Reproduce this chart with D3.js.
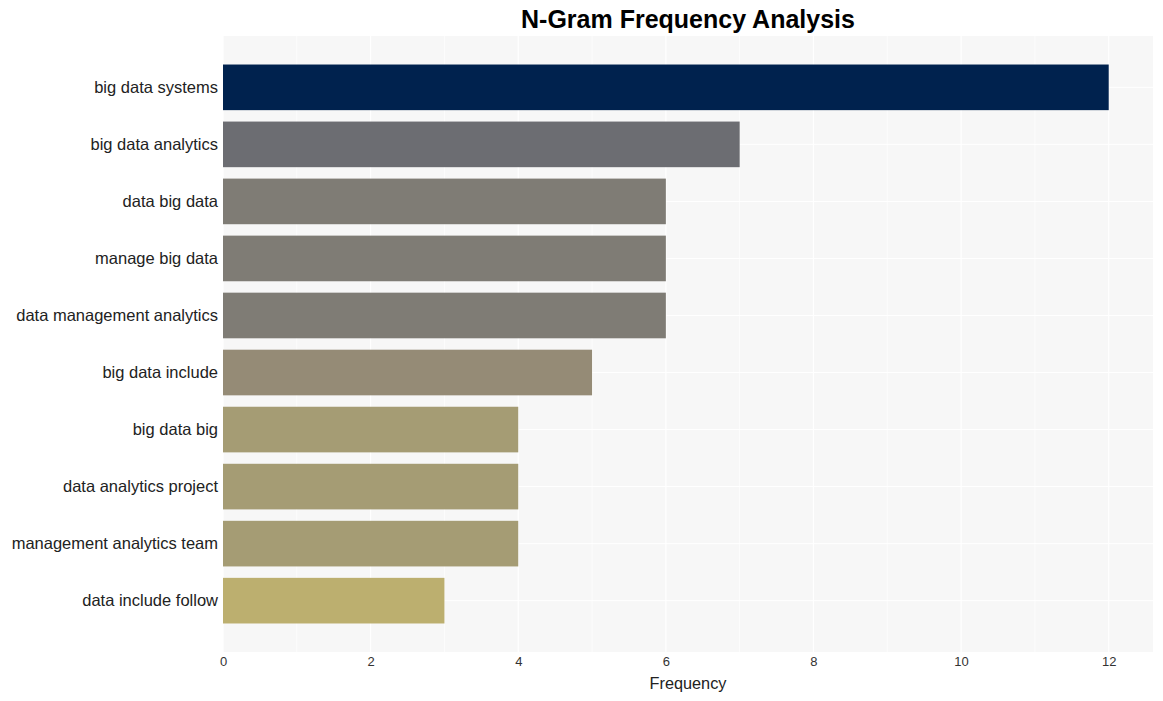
<!DOCTYPE html>
<html><head><meta charset="utf-8">
<script src="https://cdn.jsdelivr.net/npm/d3@7/dist/d3.min.js"></script>
<style>body{margin:0;background:#fff;font-family:"Liberation Sans",Arial,sans-serif;}</style>
</head><body><svg id="c" width="1163" height="701"></svg>
<script>
const categories = ["big data systems","big data analytics","data big data","manage big data","data management analytics","big data include","big data big","data analytics project","management analytics team","data include follow"];
const values = [12,7,6,6,6,5,4,4,4,3];
const colors = ["#00224e","#6c6d72","#7f7c75","#7f7c75","#7f7c75","#958b76","#a59c74","#a59c74","#a59c74","#bcaf6f"];
const xTicks = [0,2,4,6,8,10,12];
const title = "N-Gram Frequency Analysis";
const xLabel = "Frequency";

const svg = d3.select("#c");
const m = {left:223, right:1153, top:36, bottom:652};
const x = d3.scaleLinear().domain([0,12.6]).range([m.left,m.right]);
const y = d3.scaleBand().domain(categories).range([m.top,m.bottom]).paddingInner(0.2).paddingOuter(0.5);

svg.append("rect").attr("x",m.left).attr("y",m.top).attr("width",m.right-m.left).attr("height",m.bottom-m.top).attr("fill","#f7f7f7");
const g = svg.append("g");
g.selectAll("line.gx").data(d3.range(0,13)).join("line")
 .attr("x1",d=>x(d)).attr("x2",d=>x(d)).attr("y1",m.top).attr("y2",m.bottom)
 .attr("stroke","#fff").attr("stroke-width",d=>d%2===0?1.2:0.7);
g.selectAll("line.gy").data(categories).join("line")
 .attr("x1",m.left).attr("x2",m.right).attr("y1",d=>y(d)+y.bandwidth()/2).attr("y2",d=>y(d)+y.bandwidth()/2)
 .attr("stroke","#fff").attr("stroke-width",1);

svg.selectAll("rect.bar").data(values).join("rect").attr("class","bar")
 .attr("x",x(0)).attr("y",(d,i)=>y(categories[i])).attr("width",d=>x(d)-x(0)).attr("height",y.bandwidth())
 .attr("fill",(d,i)=>colors[i]);

const xa = svg.append("g").attr("transform",`translate(0,${m.bottom})`)
 .call(d3.axisBottom(x).tickValues(xTicks).tickSize(0).tickPadding(5));
xa.select(".domain").remove();
xa.selectAll("text").attr("font-size",13).attr("fill","#333").attr("font-family","Liberation Sans, Arial, sans-serif");

const ya = svg.append("g").attr("transform",`translate(${m.left},0)`)
 .call(d3.axisLeft(y).tickSize(0).tickPadding(5));
ya.select(".domain").remove();
ya.selectAll("text").attr("font-size",16.5).attr("fill","#222").attr("font-family","Liberation Sans, Arial, sans-serif");

svg.append("text").attr("x",(m.left+m.right)/2).attr("y",28).attr("text-anchor","middle")
 .attr("font-size",25).attr("font-weight","bold").attr("fill","#000").text(title);
svg.append("text").attr("x",(m.left+m.right)/2).attr("y",689).attr("text-anchor","middle")
 .attr("font-size",16.3).attr("fill","#222").text(xLabel);
</script></body></html>
